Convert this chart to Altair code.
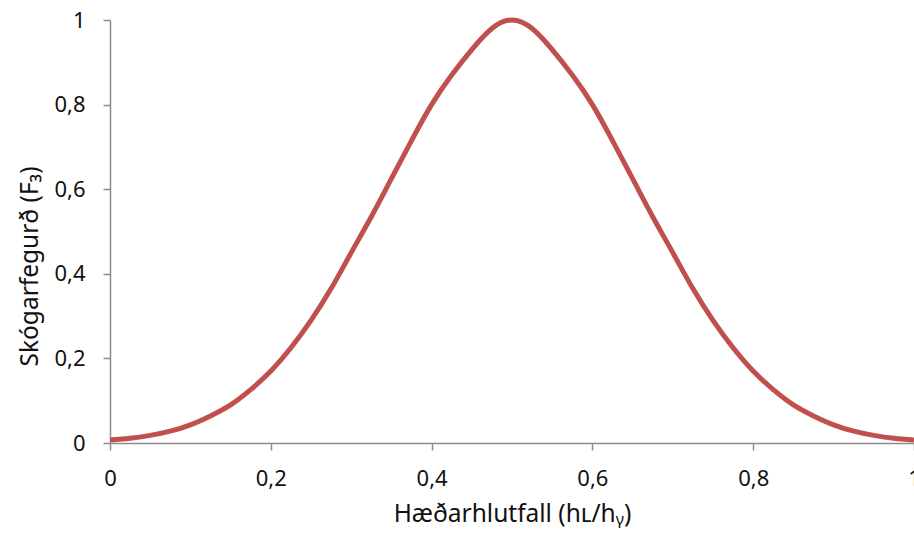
import altair as alt
import pandas as pd

# (height ratio vs. forest beauty)
ratio = [0.0, 0.025, 0.05, 0.075, 0.1, 0.125, 0.15, 0.175, 0.2, 0.225, 0.25,
         0.275, 0.3, 0.325, 0.35, 0.375, 0.4, 0.425, 0.45, 0.475, 0.5,
         0.525, 0.55, 0.575, 0.6, 0.625, 0.65, 0.675, 0.7, 0.725, 0.75,
         0.775, 0.8, 0.825, 0.85, 0.875, 0.9, 0.925, 0.95, 0.975, 1.0]
beauty = [0.007, 0.011, 0.018, 0.028, 0.043, 0.064, 0.090, 0.126, 0.170, 0.225, 0.290,
          0.365, 0.450, 0.535, 0.625, 0.715, 0.800, 0.870, 0.930, 0.980, 1.000,
          0.980, 0.930, 0.870, 0.800, 0.715, 0.625, 0.535, 0.450, 0.365, 0.290,
          0.225, 0.170, 0.126, 0.090, 0.064, 0.043, 0.028, 0.018, 0.011, 0.007]
x_ticks = [0, 0.2, 0.4, 0.6, 0.8, 1.0]
y_ticks = [0, 0.2, 0.4, 0.6, 0.8, 1.0]

df = pd.DataFrame({"x": ratio, "y": beauty})

FONT = "Noto Sans"
axis_common = dict(
    domainColor="#8c8c8c", domainWidth=1.5,
    tickColor="#8c8c8c", tickWidth=1.5, tickSize=7,
    grid=False,
    labelFont=FONT, labelFontSize=22, labelColor="#111111",
    titleFont=FONT, titleFontSize=24.5, titleFontWeight="normal", titleColor="#111111",
    labelExpr="replace(format(datum.value, '~g'), '.', ',')",
)

chart = alt.Chart(df).mark_line(
    color="#C0504D", strokeWidth=5, interpolate="natural", clip=False
).encode(
    x=alt.X("x:Q", scale=alt.Scale(domain=[0, 1], nice=False),
            axis=alt.Axis(values=x_ticks, title="Hæðarhlutfall (hʟ/hᵧ)",
                          labelPadding=18, titlePadding=13, labelFlush=False,
                          **axis_common)),
    y=alt.Y("y:Q", scale=alt.Scale(domain=[0, 1], nice=False),
            axis=alt.Axis(values=y_ticks, title="Skógarfegurð (F₃)",
                          labelPadding=18, titleY=246, titleX=-80,
                          titleAngle=-90, titleAlign="center", titleBaseline="middle",
                          **axis_common)),
).properties(
    width=804, height=423,
    autosize=alt.AutoSizeParams(type="none"),
    padding={"left": 110, "top": 20, "right": 0, "bottom": 90},
).configure_view(stroke=None)

chart.save("out.html", embed_options={"renderer": "svg", "actions": False})
